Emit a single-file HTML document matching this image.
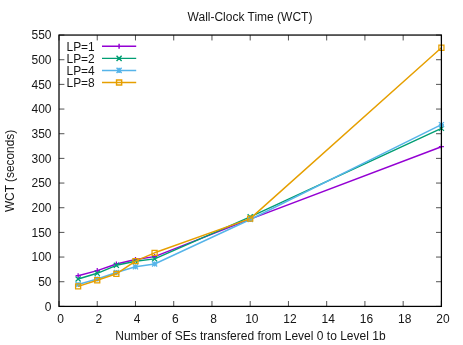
<!DOCTYPE html>
<html><head><meta charset="utf-8"><title>Wall-Clock Time (WCT)</title>
<style>
html,body{margin:0;padding:0;background:#fff;}
body{width:463px;height:345px;overflow:hidden;}
svg{display:block;will-change:transform;}
text{font-family:"Liberation Sans",sans-serif;fill:#161616;}
</style></head><body>
<svg width="463" height="345" viewBox="0 0 463 345">
<rect x="0" y="0" width="463" height="345" fill="#ffffff"/>

<path d="M59.00 306.40h5.40 M441.40 306.40h-5.40 M59.00 281.73h5.40 M441.40 281.73h-5.40 M59.00 257.06h5.40 M441.40 257.06h-5.40 M59.00 232.40h5.40 M441.40 232.40h-5.40 M59.00 207.73h5.40 M441.40 207.73h-5.40 M59.00 183.06h5.40 M441.40 183.06h-5.40 M59.00 158.39h5.40 M441.40 158.39h-5.40 M59.00 133.72h5.40 M441.40 133.72h-5.40 M59.00 109.05h5.40 M441.40 109.05h-5.40 M59.00 84.39h5.40 M441.40 84.39h-5.40 M59.00 59.72h5.40 M441.40 59.72h-5.40 M59.00 35.05h5.40 M441.40 35.05h-5.40 M59.00 306.40v-5.40 M59.00 35.05v5.40 M97.24 306.40v-5.40 M97.24 35.05v5.40 M135.48 306.40v-5.40 M135.48 35.05v5.40 M173.72 306.40v-5.40 M173.72 35.05v5.40 M211.96 306.40v-5.40 M211.96 35.05v5.40 M250.20 306.40v-5.40 M250.20 35.05v5.40 M288.44 306.40v-5.40 M288.44 35.05v5.40 M326.68 306.40v-5.40 M326.68 35.05v5.40 M364.92 306.40v-5.40 M364.92 35.05v5.40 M403.16 306.40v-5.40 M403.16 35.05v5.40 M441.40 306.40v-5.40 M441.40 35.05v5.40" stroke="#1a1a1a" stroke-width="0.75" fill="none"/>
<polyline points="78.12,275.70 97.24,270.60 116.36,264.00 135.48,259.50 154.60,256.60 250.20,219.10 441.40,146.70" fill="none" stroke="#9400d3" stroke-width="1.45" stroke-linejoin="round"/>
<path d="M75.57 275.70h5.10 M78.12 273.15v5.10 M94.69 270.60h5.10 M97.24 268.05v5.10 M113.81 264.00h5.10 M116.36 261.45v5.10 M132.93 259.50h5.10 M135.48 256.95v5.10 M152.05 256.60h5.10 M154.60 254.05v5.10 M247.65 219.10h5.10 M250.20 216.55v5.10 M438.85 146.70h5.10 M441.40 144.15v5.10" fill="none" stroke="#9400d3" stroke-width="1.25"/>
<polyline points="78.12,279.00 97.24,273.30 116.36,265.30 135.48,261.30 154.60,258.90 250.20,216.80 441.40,128.30" fill="none" stroke="#009e73" stroke-width="1.45" stroke-linejoin="round"/>
<path d="M75.57 276.45l5.10 5.10 M75.57 281.55l5.10 -5.10 M94.69 270.75l5.10 5.10 M94.69 275.85l5.10 -5.10 M113.81 262.75l5.10 5.10 M113.81 267.85l5.10 -5.10 M132.93 258.75l5.10 5.10 M132.93 263.85l5.10 -5.10 M152.05 256.35l5.10 5.10 M152.05 261.45l5.10 -5.10 M247.65 214.25l5.10 5.10 M247.65 219.35l5.10 -5.10 M438.85 125.75l5.10 5.10 M438.85 130.85l5.10 -5.10" fill="none" stroke="#009e73" stroke-width="1.25"/>
<polyline points="78.12,284.50 97.24,279.00 116.36,272.50 135.48,266.80 154.60,264.00 250.20,219.50 441.40,124.70" fill="none" stroke="#56b4e9" stroke-width="1.45" stroke-linejoin="round"/>
<path d="M75.57 284.50h5.10 M78.12 281.95v5.10 M75.57 281.95l5.10 5.10 M75.57 287.05l5.10 -5.10 M94.69 279.00h5.10 M97.24 276.45v5.10 M94.69 276.45l5.10 5.10 M94.69 281.55l5.10 -5.10 M113.81 272.50h5.10 M116.36 269.95v5.10 M113.81 269.95l5.10 5.10 M113.81 275.05l5.10 -5.10 M132.93 266.80h5.10 M135.48 264.25v5.10 M132.93 264.25l5.10 5.10 M132.93 269.35l5.10 -5.10 M152.05 264.00h5.10 M154.60 261.45v5.10 M152.05 261.45l5.10 5.10 M152.05 266.55l5.10 -5.10 M247.65 219.50h5.10 M250.20 216.95v5.10 M247.65 216.95l5.10 5.10 M247.65 222.05l5.10 -5.10 M438.85 124.70h5.10 M441.40 122.15v5.10 M438.85 122.15l5.10 5.10 M438.85 127.25l5.10 -5.10" fill="none" stroke="#56b4e9" stroke-width="1.25"/>
<polyline points="78.12,286.40 97.24,280.20 116.36,273.80 135.48,261.10 154.60,252.80 250.20,218.60 441.40,47.70" fill="none" stroke="#e69f00" stroke-width="1.45" stroke-linejoin="round"/>
<path d="M75.57 283.85h5.10v5.10h-5.10z M94.69 277.65h5.10v5.10h-5.10z M113.81 271.25h5.10v5.10h-5.10z M132.93 258.55h5.10v5.10h-5.10z M152.05 250.25h5.10v5.10h-5.10z M247.65 216.05h5.10v5.10h-5.10z M438.85 45.15h5.10v5.10h-5.10z" fill="none" stroke="#e69f00" stroke-width="1.25"/>
<path d="M102 46.25H136.2 M116.55 46.25h5.10 M119.10 43.70v5.10" fill="none" stroke="#9400d3" stroke-width="1.45"/>
<text transform="translate(66.50 50.50) scale(0.9800 1.0000)" text-anchor="start" font-size="12.2">LP=1</text>
<path d="M102 58.35H136.2 M116.55 55.80l5.10 5.10 M116.55 60.90l5.10 -5.10" fill="none" stroke="#009e73" stroke-width="1.45"/>
<text transform="translate(66.50 62.60) scale(0.9800 1.0000)" text-anchor="start" font-size="12.2">LP=2</text>
<path d="M102 70.40H136.2 M116.55 70.40h5.10 M119.10 67.85v5.10 M116.55 67.85l5.10 5.10 M116.55 72.95l5.10 -5.10" fill="none" stroke="#56b4e9" stroke-width="1.45"/>
<text transform="translate(66.50 74.65) scale(0.9800 1.0000)" text-anchor="start" font-size="12.2">LP=4</text>
<path d="M102 82.45H136.2 M116.55 79.90h5.10v5.10h-5.10z" fill="none" stroke="#e69f00" stroke-width="1.45"/>
<text transform="translate(66.50 86.70) scale(0.9800 1.0000)" text-anchor="start" font-size="12.2">LP=8</text>
<rect x="59.00" y="35.05" width="382.40" height="271.35" fill="none" stroke="#000" stroke-width="1.25"/>
<text transform="translate(51.50 310.70) scale(0.9600 1.0000)" text-anchor="end" font-size="12.5">0</text>
<text transform="translate(51.50 286.03) scale(0.9600 1.0000)" text-anchor="end" font-size="12.5">50</text>
<text transform="translate(51.50 261.36) scale(0.9600 1.0000)" text-anchor="end" font-size="12.5">100</text>
<text transform="translate(51.50 236.70) scale(0.9600 1.0000)" text-anchor="end" font-size="12.5">150</text>
<text transform="translate(51.50 212.03) scale(0.9600 1.0000)" text-anchor="end" font-size="12.5">200</text>
<text transform="translate(51.50 187.36) scale(0.9600 1.0000)" text-anchor="end" font-size="12.5">250</text>
<text transform="translate(51.50 162.69) scale(0.9600 1.0000)" text-anchor="end" font-size="12.5">300</text>
<text transform="translate(51.50 138.02) scale(0.9600 1.0000)" text-anchor="end" font-size="12.5">350</text>
<text transform="translate(51.50 113.35) scale(0.9600 1.0000)" text-anchor="end" font-size="12.5">400</text>
<text transform="translate(51.50 88.69) scale(0.9600 1.0000)" text-anchor="end" font-size="12.5">450</text>
<text transform="translate(51.50 64.02) scale(0.9600 1.0000)" text-anchor="end" font-size="12.5">500</text>
<text transform="translate(51.50 39.35) scale(0.9600 1.0000)" text-anchor="end" font-size="12.5">550</text>
<text transform="translate(60.60 322.90) scale(0.9600 1.0000)" text-anchor="middle" font-size="12.5">0</text>
<text transform="translate(98.84 322.90) scale(0.9600 1.0000)" text-anchor="middle" font-size="12.5">2</text>
<text transform="translate(137.08 322.90) scale(0.9600 1.0000)" text-anchor="middle" font-size="12.5">4</text>
<text transform="translate(175.32 322.90) scale(0.9600 1.0000)" text-anchor="middle" font-size="12.5">6</text>
<text transform="translate(213.56 322.90) scale(0.9600 1.0000)" text-anchor="middle" font-size="12.5">8</text>
<text transform="translate(251.80 322.90) scale(0.9600 1.0000)" text-anchor="middle" font-size="12.5">10</text>
<text transform="translate(290.04 322.90) scale(0.9600 1.0000)" text-anchor="middle" font-size="12.5">12</text>
<text transform="translate(328.28 322.90) scale(0.9600 1.0000)" text-anchor="middle" font-size="12.5">14</text>
<text transform="translate(366.52 322.90) scale(0.9600 1.0000)" text-anchor="middle" font-size="12.5">16</text>
<text transform="translate(404.76 322.90) scale(0.9600 1.0000)" text-anchor="middle" font-size="12.5">18</text>
<text transform="translate(443.00 322.90) scale(0.9600 1.0000)" text-anchor="middle" font-size="12.5">20</text>
<text transform="translate(250.00 21.00) scale(0.9600 1.0000)" text-anchor="middle" font-size="12.5">Wall-Clock Time (WCT)</text>
<text transform="translate(250.40 340.40) scale(0.9615 1.0000)" text-anchor="middle" font-size="12.5">Number of SEs transfered from Level 0 to Level 1b</text>
<text transform="translate(13.80 171.00) rotate(-90) scale(0.9670 1.0000)" text-anchor="middle" font-size="12.3">WCT (seconds)</text>
</svg></body></html>
